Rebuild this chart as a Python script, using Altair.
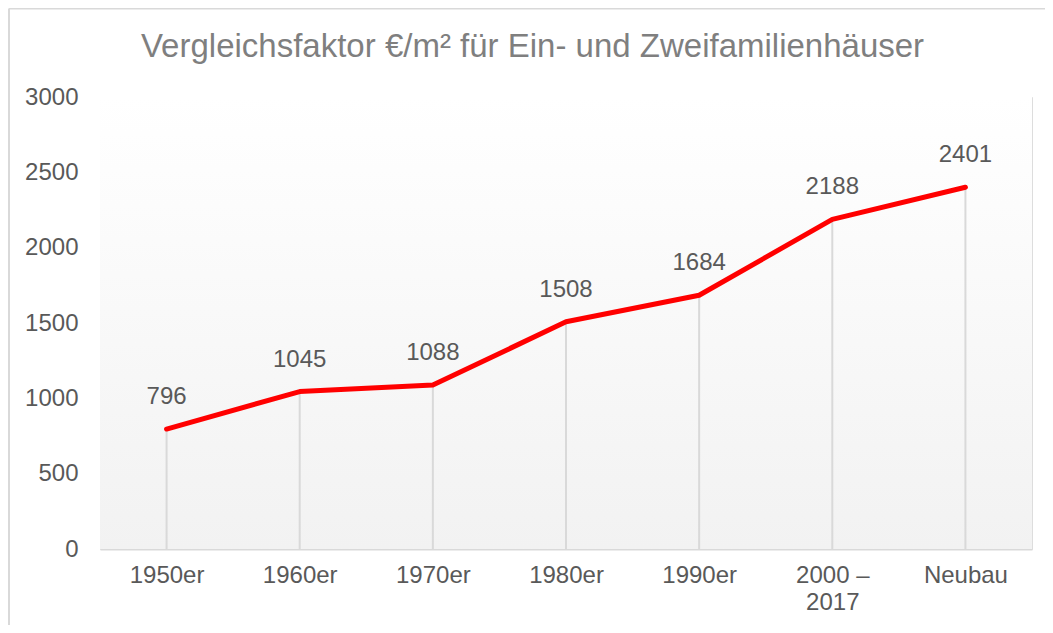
import altair as alt
import pandas as pd

categories = ["1950er", "1960er", "1970er", "1980er", "1990er", "2000 – 2017", "Neubau"]
values = [796, 1045, 1088, 1508, 1684, 2188, 2401]
y_ticks = [0, 500, 1000, 1500, 2000, 2500, 3000]
title_text = "Vergleichsfaktor €/m² für Ein- und Zweifamilienhäuser"

df = pd.DataFrame({"cat": categories, "val": values})
one = pd.DataFrame({"t": [title_text]})

W, H = 932, 452
FONT = "Liberation Sans"
TXT = "#595959"

x_enc = alt.X(
    "cat:N",
    sort=categories,
    scale=alt.Scale(type="point", padding=0.5),
    axis=alt.Axis(
        title=None,
        ticks=False,
        domainColor="#d9d9d9",
        domainWidth=2,
        labelAngle=0,
        labelFontSize=24,
        labelColor=TXT,
        labelFont=FONT,
        labelPadding=14,
        labelLineHeight=27,
        labelExpr="datum.label == '2000 – 2017' ? ['2000 –', '2017'] : datum.label",
    ),
)
y_enc = alt.Y(
    "val:Q",
    scale=alt.Scale(domain=[0, 3000], nice=False),
    axis=alt.Axis(
        title=None,
        values=y_ticks,
        format="d",
        grid=False,
        ticks=False,
        domain=False,
        labelFontSize=24,
        labelColor=TXT,
        labelFont=FONT,
        labelPadding=22,
    ),
)

bg = alt.Chart(one).mark_rect(
    fill=alt.Gradient(
        gradient="linear",
        stops=[
            alt.GradientStop(color="#ffffff", offset=0),
            alt.GradientStop(color="#fcfcfc", offset=0.24),
            alt.GradientStop(color="#f2f2f2", offset=1),
        ],
        x1=0, x2=0, y1=0, y2=1,
    )
).encode(x=alt.value(0), x2=alt.value(W), y=alt.value(0), y2=alt.value(H))

border_top = alt.Chart(one).mark_rule(color="#d9d9d9", strokeWidth=2, clip=False).encode(
    x=alt.value(-91), x2=alt.value(1000), y=alt.value(-88.5)
)
border_left = alt.Chart(one).mark_rule(color="#d9d9d9", strokeWidth=2, clip=False).encode(
    x=alt.value(-91), y=alt.value(-88.5), y2=alt.value(600)
)

title = alt.Chart(one).mark_text(
    font=FONT, fontSize=33, color="#7f7f7f", baseline="alphabetic", align="center"
).encode(x=alt.value(432.5), y=alt.value(-40), text="t:N")

base = alt.Chart(df)

rules = base.mark_rule(color="#d9d9d9", strokeWidth=2).encode(
    x=x_enc, y=alt.Y("zero:Q"), y2=alt.Y2("val:Q")
).transform_calculate(zero="0")

line = base.mark_line(color="#ff0000", strokeWidth=5, strokeJoin="round", strokeCap="round").encode(
    x=x_enc, y=y_enc
)

labels = base.mark_text(
    fontSize=24, color=TXT, font=FONT, baseline="middle", dy=-32
).encode(x=x_enc, y=y_enc, text="val:Q")

chart = alt.layer(bg, border_top, border_left, title, rules, line, labels).properties(
    width=W,
    height=H,
    autosize=alt.AutoSizeParams(type="none"),
    padding={"left": 92, "top": 89, "right": 13, "bottom": 76},
).configure_view(stroke=None).configure(background="white")

chart.save("out.html", embed_options={"renderer": "svg", "actions": False})
